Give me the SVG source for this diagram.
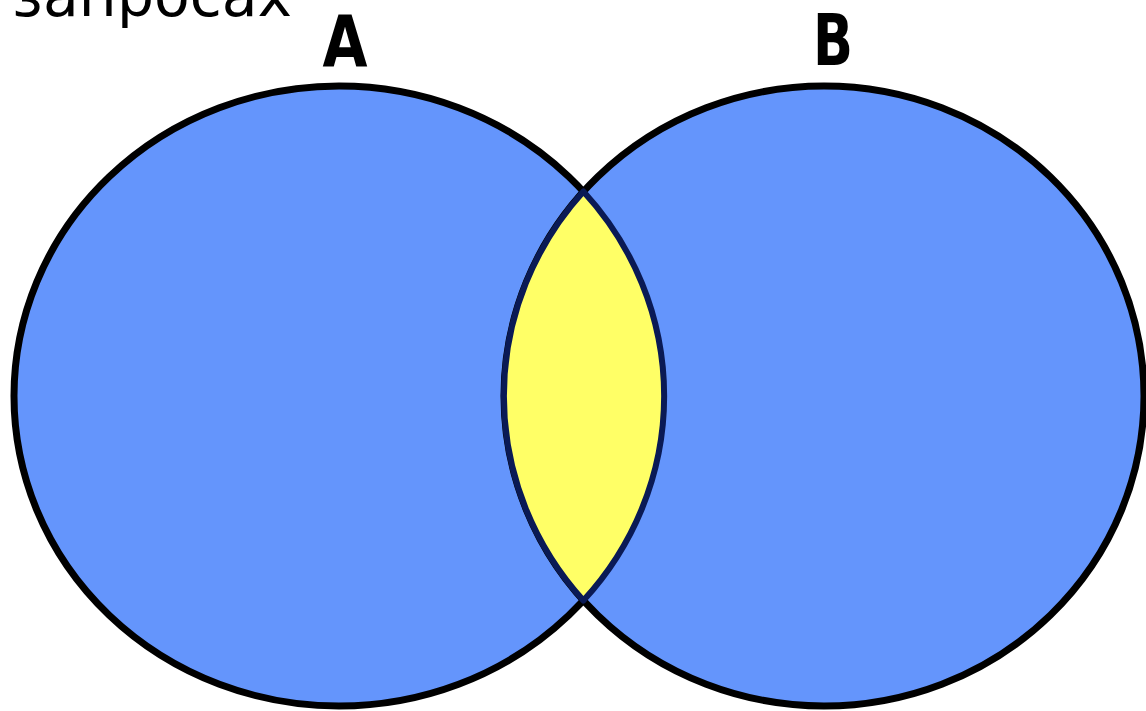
<svg xmlns="http://www.w3.org/2000/svg" width="1146" height="711" viewBox="0 0 1146 711">
  <style>
    .set { fill: #6495fc; stroke: #000; stroke-width: 7; }
    .lens { fill: #ffff66; stroke: #0a1a55; stroke-width: 6; stroke-linejoin: round; }
    .lbl { font-family: "DejaVu Sans", "Liberation Sans", sans-serif; font-weight: bold; font-size: 72px; fill: #000; }
    .cap { font-family: "DejaVu Sans", "Liberation Sans", sans-serif; font-size: 58px; fill: #000; }
  </style>
  <rect width="1146" height="711" fill="#ffffff"/>
  <text class="cap" x="12" y="16" textLength="280" lengthAdjust="spacingAndGlyphs">запросах</text>
  <g id="setA">
    <ellipse class="set" cx="339" cy="396" rx="325" ry="310"/>
  </g>
  <g id="setB">
    <ellipse class="set" cx="824" cy="396" rx="320" ry="310"/>
  </g>
  <g id="intersection">
    <path class="lens" d="M583.4,191.5 A320,310 0 0 0 583.4,600.5 A325,310 0 0 0 583.4,191.5 Z"/>
  </g>
  <g id="labelA">
    <text class="lbl" x="345" y="66" text-anchor="middle" textLength="45" lengthAdjust="spacingAndGlyphs">A</text>
  </g>
  <g id="labelB">
    <text class="lbl" x="833" y="65" text-anchor="middle" textLength="40" lengthAdjust="spacingAndGlyphs">B</text>
  </g>
  <g id="connectors"></g>
</svg>
